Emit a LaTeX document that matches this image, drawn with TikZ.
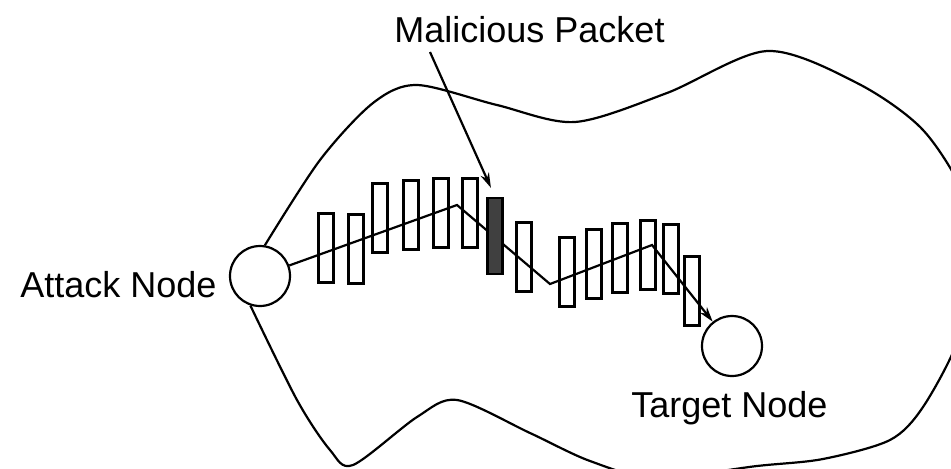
\documentclass[tikz,border=0pt]{standalone}
\usepackage{fontspec}
\setmainfont{Liberation Sans}
\usetikzlibrary{arrows.meta}

\tikzstyle{station}=[circle,draw,line width=1.25pt,minimum size=1.2cm,inner sep=0pt]
\tikzstyle{packet}=[rectangle,draw,line width=1.25pt,minimum width=0.3cm,minimum height=1.38cm,inner sep=0pt]
\tikzstyle{bad packet}=[packet,fill=black!75,minimum height=1.52cm]
\tikzstyle{caption}=[anchor=base west,inner sep=0pt,font=\fontsize{20.5}{24}\selectfont]
\tikzstyle{route} = [draw,line width=1.25pt,-{Stealth[length=0.3cm,width=0.18cm]}]
\tikzstyle{pointer} = [route,shorten >=0.2cm]
\tikzstyle{region} = [draw,line width=1.25pt]

\begin{document}
\begin{tikzpicture}[x=0.02cm,y=-0.02cm]
	\useasboundingbox (0,0) rectangle (951,468);
	\clip (0,0) rectangle (951,468);
			\node[station] (attack) at (260,276) {};
			\node[station] (target) at (732,346) {};
			\node[caption] (attacklbl) at (20,297) {Attack Node};
			\node[caption] (targetlbl) at (631,417) {Target Node};
			\node[caption] (badlbl) at (394,42) {Malicious Packet};
	    		% Packets on their way
			\foreach \name/\x/\y in {p1/326/248, p2/356/249, p3/380/218, p4/411/215,
				p5/441/213, p6/470/213, p7/524/257, p8/567/272, p9/594/264,
				p10/620/258, p11/648/255, p12/671/259, p13/692/291}
			 \node[packet] (\name) at (\x,\y) {};
	   		 % Route from attacker to target
			\coordinate (b1) at (457,205);
			\coordinate (b2) at (550,284);
			\coordinate (b3) at (652,245);
			\path[route] (attack) -- (b1) -- (b2) -- (b3) -- (target);
			\node[bad packet] (bad) at (495,236) {};
			\coordinate (tail) at (430,52);
			\path[pointer] (tail) -- (bad.north);
	   		 % Network boundary
			\path[region] plot[smooth] coordinates {(attack.81) (320,160) (373,103)
				(417,85) (497,105) (575,122) (667,93) (767,51) (857,83) (923,130)
				(966,200) (970,270) (958,340) (923,407) (890,440) (823,459) (757,466)
				(655,478) (590,461) (530,433) (457,400) (417,417) (353,465) (330,450)
				(297,400) (attack.252)};
		\end{tikzpicture}
\end{document}
